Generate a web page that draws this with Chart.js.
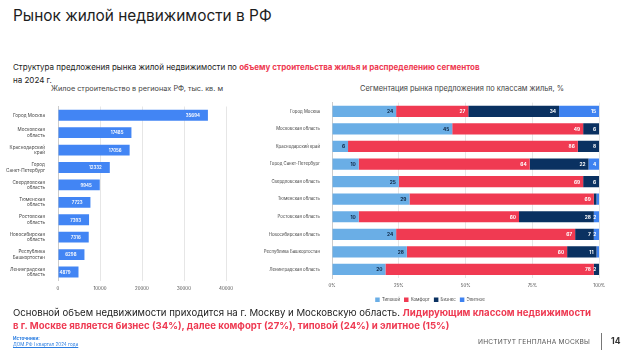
<!DOCTYPE html>
<html>
<head>
<meta charset="utf-8">
<script src="https://cdn.jsdelivr.net/npm/chart.js@4"></script>
<style>
	body { margin: 0; width: 631px; height: 350px; background: #fff; font-family: 'Inter', 'Open Sans', sans-serif; color: #222; overflow: hidden; position: relative; }
	.abs { position: absolute; white-space: nowrap; }
	.red { color: #ee3a52; font-weight: 700; }
	#title { left: 13px; top: 6px; font-size: 15.4px; color: #1d1d1d; }
	#sub { left: 13px; top: 61px; font-size: 8px; line-height: 13px; }
	#t1 { left: 51px; top: 84px; font-size: 7.3px; color: #444; }
	#t2 { left: 360px; top: 84px; font-size: 7.4px; color: #444; }
	#bottom { left: 13px; top: 306px; font-size: 9.6px; line-height: 13px; }
	#src { left: 13px; top: 336px; font-size: 4.6px; line-height: 6px; color: #2a7de1; }
	#inst { left: 478px; top: 338px; font-size: 6.6px; color: #555; letter-spacing: 0.2px; }
	#sep { left: 601px; top: 333px; width: 1px; height: 17px; background: #777; }
	#page { left: 611px; top: 336px; font-size: 8.5px; font-weight: 700; color: #333; }
	canvas { position: absolute; }
</style>
</head>
<body>
<div class="abs" id="title">Рынок жилой недвижимости в РФ</div>
<div class="abs" id="sub">Структура предложения рынка жилой недвижимости по <span class="red">объему строительства жилья и распределению сегментов</span><br>на 2024 г.</div>
<div class="abs" id="t1">Жилое строительство в регионах РФ, тыс. кв. м</div>
<div class="abs" id="t2">Сегментация рынка предложения по классам жилья, %</div>

<canvas id="volume" width="240" height="200" style="left:0;top:96px"></canvas>
<canvas id="segments" width="352" height="216" style="left:258px;top:96px"></canvas>

<div class="abs" id="bottom">Основной объем недвижимости приходится на г. Москву и Московскую область. <span class="red">Лидирующим классом недвижимости</span><br><span class="red">в г. Москве является бизнес (34%), далее комфорт (27%), типовой (24%) и элитное (15%)</span></div>
<div class="abs" id="src"><b>Источники:</b><br><u>ДОМ.РФ I квартал 2024 года</u></div>
<div class="abs" id="inst">ИНСТИТУТ ГЕНПЛАНА МОСКВЫ</div>
<div class="abs" id="sep"></div>
<div class="abs" id="page">14</div>

<script>
// данные
const regionsShort = [
	'Город Москва',
	['Московская', 'область'],
	['Краснодарский', 'край'],
	['Город', 'Санкт-Петербург'],
	['Свердловская', 'область'],
	['Тюменская', 'область'],
	['Ростовская', 'область'],
	['Новосибирская', 'область'],
	['Республика', 'Башкортостан'],
	['Ленинградская', 'область']
]
const volume = [35694, 17485, 17056, 12332, 9945, 7723, 7393, 7316, 6298, 4879]
const volumeTicks = [0, 10000, 20000, 30000, 40000]

const regionsFull = [
	'Город Москва',
	'Московская область',
	'Краснодарский край',
	'Город Санкт-Петербург',
	'Свердловская область',
	'Тюменская область',
	'Ростовская область',
	'Новосибирская область',
	'Республика Башкортостан',
	'Ленинградская область'
]
const segmentNames = ['Типовой', 'Комфорт', 'Бизнес', 'Элитное']
const typical = [24, 45, 6, 10, 25, 29, 10, 24, 28, 20]
const comfort = [27, 49, 86, 64, 69, 69, 60, 67, 60, 78]
const business = [34, 6, 8, 22, 6, 1, 28, 7, 11, 2]
const elite = [15, 0, 0, 4, 0, 1, 2, 2, 1, 0]
const percentTicks = ['0%', '25%', '50%', '75%', '100%']

// подписи внутри столбиков
const barLabels = {
	id: 'barLabels',
	afterDatasetsDraw(chart, args, opts){
		let ctx = chart.ctx
		chart.data.datasets.forEach(function(ds, i){
			let meta = chart.getDatasetMeta(i)
			if (meta.hidden) return
			meta.data.forEach(function(bar, j){
				let v = ds.data[j]
				if (v < opts.min) return
				ctx.save()
				ctx.font = opts.font
				ctx.fillStyle = ds.labelColor || '#fff'
				ctx.textAlign = 'right'
				ctx.textBaseline = 'middle'
				ctx.fillText(v, bar.x - opts.pad, bar.y + 0.5)
				ctx.restore()
			})
		})
	}
}

Chart.defaults.font.family = "'Inter', 'Open Sans', sans-serif"
Chart.defaults.animation = false

new Chart(document.getElementById('volume'), {
	type: 'bar',
	plugins: [barLabels],
	data: {
		labels: regionsShort,
		datasets: [{
			data: volume,
			backgroundColor: '#4285f4',
			categoryPercentage: 0.62,
			barPercentage: 1
		}]
	},
	options: {
		indexAxis: 'y',
		responsive: false,
		layout: { padding: { top: 6, right: 14, bottom: 0 } },
		plugins: {
			legend: { display: false },
			tooltip: { enabled: false },
			barLabels: { min: 1, pad: 8, font: '600 4.4px Inter, sans-serif' }
		},
		scales: {
			x: {
				min: 0, max: 40000,
				afterBuildTicks: function(s){ s.ticks = volumeTicks.map(v => ({ value: v })) },
				grid: { color: '#e6e6e6', lineWidth: 1, drawTicks: false },
				border: { display: false },
				ticks: { font: { size: 4.4 }, color: '#444', padding: 5, callback: v => String(v) }
			},
			y: {
				afterFit: function(s){ s.width = 58 },
				grid: { display: false },
				border: { color: '#ccc' },
				ticks: { font: { size: 4.6 }, color: '#444', padding: 5 }
			}
		}
	}
})

const segColors = ['#6aaee6', '#f03a52', '#0a3161', '#3e82f0']
const segData = [typical, comfort, business, elite]

new Chart(document.getElementById('segments'), {
	type: 'bar',
	plugins: [barLabels],
	data: {
		labels: regionsFull,
		datasets: segmentNames.map((name, i) => ({
			label: name,
			data: segData[i],
			backgroundColor: segColors[i],
			labelColor: i == 0 ? '#0a2240' : '#fff',
			categoryPercentage: 0.64,
			barPercentage: 1
		}))
	},
	options: {
		indexAxis: 'y',
		responsive: false,
		layout: { padding: { top: 6, right: 8, bottom: 0 } },
		plugins: {
			legend: {
				position: 'bottom',
				labels: { boxWidth: 4.5, boxHeight: 4.5, font: { size: 4.4 }, color: '#444', padding: 4 }
			},
			tooltip: { enabled: false },
			barLabels: { min: 2, pad: 3, font: '700 4.8px Inter, sans-serif' }
		},
		scales: {
			x: {
				stacked: true,
				min: 0, max: 100,
				afterBuildTicks: function(s){ s.ticks = [0, 25, 50, 75, 100].map(v => ({ value: v })) },
				grid: { color: '#e6e6e6', lineWidth: 1, drawTicks: false },
				border: { display: false },
				ticks: { font: { size: 4.4 }, color: '#444', padding: 5, callback: (v, i) => percentTicks[i] }
			},
			y: {
				stacked: true,
				afterFit: function(s){ s.width = 74 },
				grid: { display: false },
				border: { color: '#ccc' },
				ticks: { font: { size: 4.3 }, color: '#444', padding: 4 }
			}
		}
	}
})
</script>
</body>
</html>
